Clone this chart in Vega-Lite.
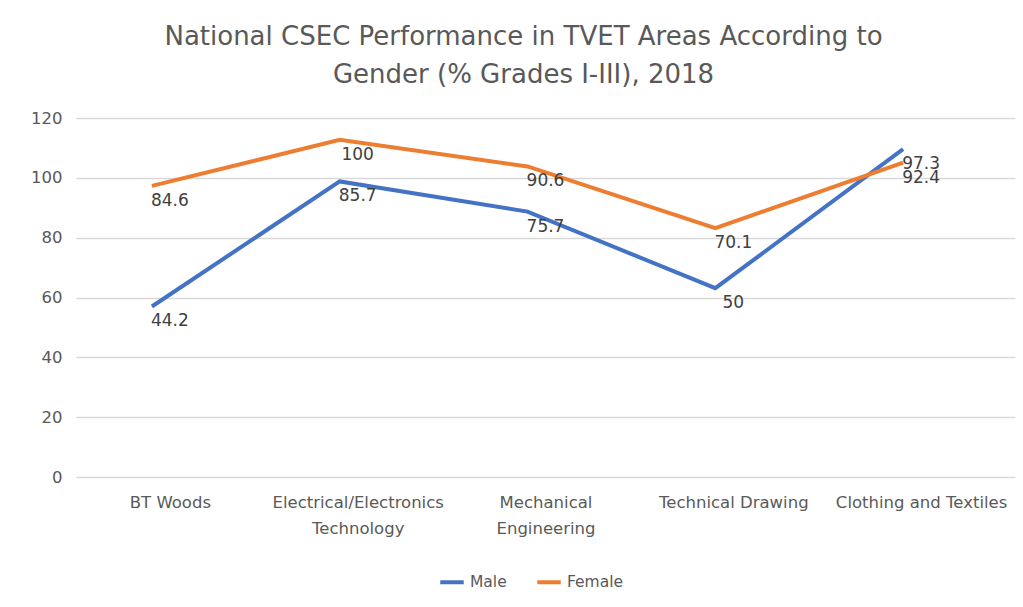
{
  "$schema": "https://vega.github.io/schema/vega-lite/v6.json",
  "width": 939,
  "height": 359,
  "autosize": {"type": "none"},
  "padding": {"left": 76, "top": 118, "right": 8, "bottom": 130},
  "background": "white",
  "title": {
    "text": ["National CSEC Performance in TVET Areas According to", "Gender (% Grades I-III), 2018"],
    "font": "DejaVu Sans",
    "fontSize": 26,
    "fontWeight": "normal",
    "color": "#595959",
    "anchor": "middle",
    "dx": -22,
    "offset": 22,
    "lineHeight": 38
  },
  "data": {
    "values": [
      {"area": "BT Woods", "gender": "Male", "plotted": 57.0, "value": "44.2"},
      {"area": "Electrical/Electronics Technology", "gender": "Male", "plotted": 98.8, "value": "85.7"},
      {"area": "Mechanical Engineering", "gender": "Male", "plotted": 88.7, "value": "75.7"},
      {"area": "Technical Drawing", "gender": "Male", "plotted": 63.1, "value": "50"},
      {"area": "Clothing and Textiles", "gender": "Male", "plotted": 109.6, "value": "97.3"},
      {"area": "BT Woods", "gender": "Female", "plotted": 97.3, "value": "84.6"},
      {"area": "Electrical/Electronics Technology", "gender": "Female", "plotted": 112.7, "value": "100"},
      {"area": "Mechanical Engineering", "gender": "Female", "plotted": 103.8, "value": "90.6"},
      {"area": "Technical Drawing", "gender": "Female", "plotted": 83.2, "value": "70.1"},
      {"area": "Clothing and Textiles", "gender": "Female", "plotted": 105.1, "value": "92.4"}
    ]
  },
  "encoding": {
    "x": {
      "field": "area",
      "type": "nominal",
      "sort": ["BT Woods", "Electrical/Electronics Technology", "Mechanical Engineering", "Technical Drawing", "Clothing and Textiles"],
      "scale": {"type": "point", "padding": 0.5},
      "axis": {
        "title": null,
        "labelAngle": 0,
        "domain": false,
        "ticks": false,
        "grid": false,
        "labelFont": "DejaVu Sans",
        "labelFontSize": 16.5,
        "labelColor": "#595959",
        "labelPadding": 17,
        "labelLineHeight": 26,
        "labelBaseline": "top",
        "labelExpr": "datum.value == 'Electrical/Electronics Technology' ? ['Electrical/Electronics', 'Technology'] : datum.value == 'Mechanical Engineering' ? ['Mechanical', 'Engineering'] : datum.value"
      }
    },
    "y": {
      "field": "plotted",
      "type": "quantitative",
      "scale": {"domain": [0, 120]},
      "axis": {
        "title": null,
        "values": [0, 20, 40, 60, 80, 100, 120],
        "domain": false,
        "ticks": false,
        "grid": true,
        "gridColor": "#d9d9d9",
        "gridWidth": 1.5,
        "labelFont": "DejaVu Sans",
        "labelFontSize": 16.5,
        "labelColor": "#595959",
        "labelPadding": 14
      }
    }
  },
  "layer": [
    {
      "mark": {"type": "line", "strokeWidth": 4, "xOffset": -18},
      "encoding": {
        "color": {
          "field": "gender",
          "type": "nominal",
          "scale": {"domain": ["Male", "Female"], "range": ["#4472C4", "#ED7D31"]},
          "legend": {
            "title": null,
            "orient": "none",
            "direction": "horizontal",
            "legendX": 362,
            "legendY": 450,
            "symbolType": "stroke",
            "symbolStrokeWidth": 4,
            "symbolSize": 550,
            "labelFont": "DejaVu Sans",
            "labelFontSize": 15.5,
            "labelColor": "#595959",
            "columnPadding": 22
          }
        }
      }
    },
    {
      "mark": {"type": "text", "font": "DejaVu Sans", "fontSize": 17, "color": "#404040", "dy": 15, "baseline": "middle"},
      "encoding": {
        "text": {"field": "value", "type": "nominal"},
        "detail": {"field": "gender", "type": "nominal"}
      }
    }
  ],
  "config": {"view": {"stroke": null}}
}
